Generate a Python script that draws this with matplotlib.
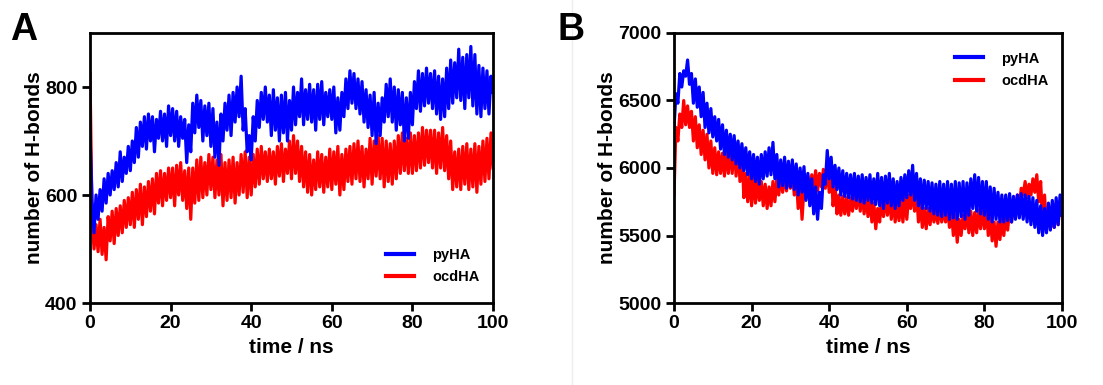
import matplotlib
matplotlib.use("Agg")
import matplotlib.pyplot as plt
import numpy as np

plt.rcParams['font.family'] = ['Liberation Sans', 'DejaVu Sans']
plt.rcParams['font.weight'] = 'bold'

# time axis, 0.5 ns steps
time_ns = np.arange(0, 100.5, 0.5)

# panel A
pyHA_A = [
    715, 590, 530, 600, 555, 610, 570, 630, 585, 640,
    600, 645, 610, 660, 615, 680, 625, 670, 640, 690,
    645, 700, 660, 725, 670, 735, 690, 745, 685, 750,
    700, 745, 680, 740, 705, 755, 700, 750, 690, 765,
    710, 760, 700, 755, 690, 745, 705, 740, 660, 730,
    680, 770, 715, 785, 725, 775, 700, 765, 710, 770,
    690, 760, 670, 735, 655, 750, 700, 770, 720, 785,
    710, 790, 735, 800, 745, 820, 720, 760, 680, 710,
    665, 745, 700, 775, 725, 790, 740, 800, 735, 785,
    710, 795, 720, 780, 700, 785, 715, 790, 700, 775,
    720, 800, 730, 790, 745, 815, 730, 795, 740, 805,
    735, 795, 720, 805, 740, 810, 730, 790, 745, 795,
    740, 800, 715, 780, 720, 790, 745, 815, 760, 830,
    770, 825, 760, 815, 750, 810, 735, 795, 725, 785,
    710, 790, 695, 770, 710, 780, 735, 805, 745, 815,
    735, 800, 720, 795, 730, 790, 700, 780, 705, 790,
    730, 810, 760, 830, 755, 825, 765, 835, 770, 825,
    760, 830, 750, 820, 740, 815, 745, 835, 760, 850,
    770, 845, 780, 870, 775, 855, 760, 860, 780, 875,
    765, 860, 750, 840, 745, 835, 760, 830, 750, 820,
    790,
]
ocdHA_A = [
    825, 560, 500, 545, 495, 555, 490, 540, 480, 560,
    515, 570, 510, 575, 525, 580, 530, 590, 540, 595,
    545, 605, 540, 610, 555, 620, 545, 615, 560, 625,
    570, 630, 565, 640, 585, 645, 580, 640, 590, 650,
    595, 650, 580, 655, 600, 660, 590, 645, 575, 650,
    555, 650, 585, 665, 590, 670, 595, 660, 600, 675,
    610, 670, 595, 665, 600, 675, 580, 660, 590, 665,
    595, 670, 585, 660, 600, 675, 605, 680, 595, 670,
    600, 675, 615, 685, 620, 690, 630, 680, 625, 685,
    630, 680, 620, 690, 635, 695, 625, 685, 640, 700,
    630, 710, 640, 700, 625, 690, 615, 680, 605, 675,
    600, 665, 610, 680, 615, 675, 605, 670, 615, 685,
    610, 680, 620, 690, 600, 675, 610, 685, 625, 690,
    620, 695, 630, 700, 625, 690, 615, 685, 630, 705,
    620, 700, 635, 710, 630, 705, 615, 700, 625, 695,
    620, 700, 630, 710, 640, 715, 645, 705, 640, 715,
    640, 710, 645, 715, 650, 725, 655, 720, 660, 720,
    650, 720, 640, 715, 650, 725, 645, 710, 630, 700,
    610, 680, 615, 685, 610, 690, 620, 695, 610, 685,
    615, 695, 605, 690, 620, 700, 625, 705, 630, 715,
    650,
]

# panel B
pyHA_B = [
    6300, 6550, 6480, 6700, 6600, 6720, 6680, 6800, 6620, 6700,
    6480, 6660, 6450, 6600, 6380, 6560, 6300, 6480, 6260, 6440,
    6230, 6380, 6200, 6360, 6140, 6320, 6100, 6280, 6080, 6250,
    6060, 6240, 6030, 6200, 6000, 6180, 5980, 6150, 5950, 6120,
    5920, 6100, 5900, 6080, 5880, 6100, 5920, 6120, 5940, 6150,
    5950, 6190, 5920, 6100, 5860, 6060, 5870, 6080, 5850, 6050,
    5860, 6060, 5840, 6030, 5800, 6000, 5820, 6010, 5760, 5960,
    5720, 5920, 5660, 5860, 5620, 5820, 5700, 5950, 5880, 6130,
    5920, 6080, 5860, 6020, 5840, 6000, 5800, 5980, 5790, 5960,
    5780, 5950, 5770, 5960, 5760, 5940, 5750, 5950, 5740, 5930,
    5760, 5950, 5740, 5920, 5730, 5960, 5720, 5930, 5700, 5940,
    5740, 5960, 5720, 5920, 5700, 5900, 5720, 5930, 5760, 5950,
    5780, 5980, 5800, 6020, 5760, 5960, 5720, 5920, 5700, 5910,
    5700, 5900, 5680, 5890, 5660, 5880, 5650, 5900, 5640, 5880,
    5650, 5900, 5620, 5880, 5630, 5900, 5620, 5890, 5640, 5900,
    5620, 5890, 5650, 5920, 5700, 5950, 5680, 5930, 5660, 5900,
    5650, 5900, 5620, 5860, 5600, 5850, 5620, 5820, 5600, 5800,
    5600, 5800, 5610, 5810, 5600, 5790, 5620, 5800, 5630, 5810,
    5620, 5800, 5600, 5790, 5580, 5780, 5560, 5760, 5520, 5720,
    5500, 5700, 5520, 5740, 5540, 5760, 5560, 5780, 5580, 5800,
    5650,
]
ocdHA_B = [
    5800, 6300, 6200, 6400, 6300, 6500, 6320, 6460, 6300, 6420,
    6200, 6380, 6150, 6320, 6100, 6280, 6060, 6250, 6000, 6200,
    5960, 6150, 5950, 6120, 5960, 6110, 5940, 6140, 5960, 6160,
    5960, 6200, 5940, 6170, 5900, 6150, 5780, 5960, 5750, 5950,
    5720, 5950, 5740, 5920, 5760, 5900, 5720, 5880, 5700, 5860,
    5720, 5900, 5750, 5920, 5800, 5950, 5820, 5960, 5830, 5970,
    5850, 5980, 5800, 5950, 5700, 5900, 5620, 5850, 5780, 5940,
    5800, 5950, 5850, 5980, 5830, 5960, 5860, 5990, 5850, 6000,
    5820, 5980, 5720, 5880, 5660, 5800, 5650, 5790, 5660, 5780,
    5650, 5780, 5680, 5820, 5700, 5850, 5680, 5820, 5660, 5800,
    5640, 5790, 5600, 5740, 5550, 5700, 5600, 5760, 5640, 5790,
    5650, 5800, 5620, 5780, 5600, 5750, 5610, 5760, 5600, 5790,
    5620, 5800, 5700, 5850, 5680, 5830, 5600, 5750, 5560, 5700,
    5550, 5700, 5580, 5720, 5600, 5700, 5590, 5720, 5600, 5700,
    5600, 5710, 5560, 5680, 5500, 5650, 5450, 5620, 5500, 5650,
    5550, 5700, 5520, 5680, 5500, 5670, 5520, 5690, 5550, 5700,
    5550, 5700, 5500, 5650, 5460, 5600, 5420, 5600, 5470, 5620,
    5500, 5650, 5540, 5700, 5600, 5750, 5700, 5800, 5720, 5850,
    5800, 5900, 5780, 5880, 5800, 5920, 5820, 5950, 5750, 5900,
    5600, 5800, 5560, 5680, 5550, 5650, 5560, 5720, 5580, 5750,
    5650,
]

x_ticks = [0, 20, 40, 60, 80, 100]
y_ticks_A = [400, 600, 800]
y_ticks_B = [5000, 5500, 6000, 6500, 7000]

BLUE = '#0000ff'
RED = '#ff0000'
LW = 2.3


def style_axis(ax, yticks, ylim):
    ax.set_xlim(0, 100)
    ax.set_ylim(*ylim)
    ax.set_xticks(x_ticks)
    ax.set_yticks(yticks)
    for s in ax.spines.values():
        s.set_linewidth(2)
    ax.tick_params(direction='out', length=6, width=2, labelsize=14, pad=3)
    for lbl in ax.get_xticklabels() + ax.get_yticklabels():
        lbl.set_fontweight('bold')
    ax.set_xlabel('time / ns', fontsize=15, fontweight='bold', labelpad=4)
    ax.set_ylabel('number of H-bonds', fontsize=15, fontweight='bold', labelpad=1)


fig = plt.figure(figsize=(11.03, 3.85), dpi=100)

axA = fig.add_axes([90 / 1103, 82 / 385, 403 / 1103, 270 / 385])
axA.plot(time_ns, ocdHA_A, color=RED, lw=LW, label='ocdHA')
axA.plot(time_ns, pyHA_A, color=BLUE, lw=LW, label='pyHA')
style_axis(axA, y_ticks_A, (400, 900))
h, l = axA.get_legend_handles_labels()
legA = axA.legend(h[::-1], l[::-1], loc='lower right', bbox_to_anchor=(1.0, 0.02),
                  frameon=False, handlelength=1.9, handletextpad=1.3,
                  labelspacing=0.6, prop={'size': 10.5, 'weight': 'bold'})
for line in legA.get_lines():
    line.set_linewidth(3)

axB = fig.add_axes([674 / 1103, 82 / 385, 388 / 1103, 270 / 385])
axB.plot(time_ns, ocdHA_B, color=RED, lw=LW, label='ocdHA')
axB.plot(time_ns, pyHA_B, color=BLUE, lw=LW, label='pyHA')
style_axis(axB, y_ticks_B, (5000, 7000))
h, l = axB.get_legend_handles_labels()
legB = axB.legend(h[::-1], l[::-1], loc='upper right', bbox_to_anchor=(1.0, 0.98),
                  frameon=False, handlelength=1.9, handletextpad=1.3,
                  labelspacing=0.6, prop={'size': 10.5, 'weight': 'bold'})
for line in legB.get_lines():
    line.set_linewidth(3)

fig.text(10 / 1103, 1 - 40 / 385, 'A', fontsize=27, fontweight='bold')
fig.text(558 / 1103, 1 - 40 / 385, 'B', fontsize=27, fontweight='bold')

# faint divider between the panels
fig.add_artist(plt.Line2D([572 / 1103, 572 / 1103], [0, 1], color='#eeeeee', lw=1))

fig.savefig('out.png', dpi=100)
